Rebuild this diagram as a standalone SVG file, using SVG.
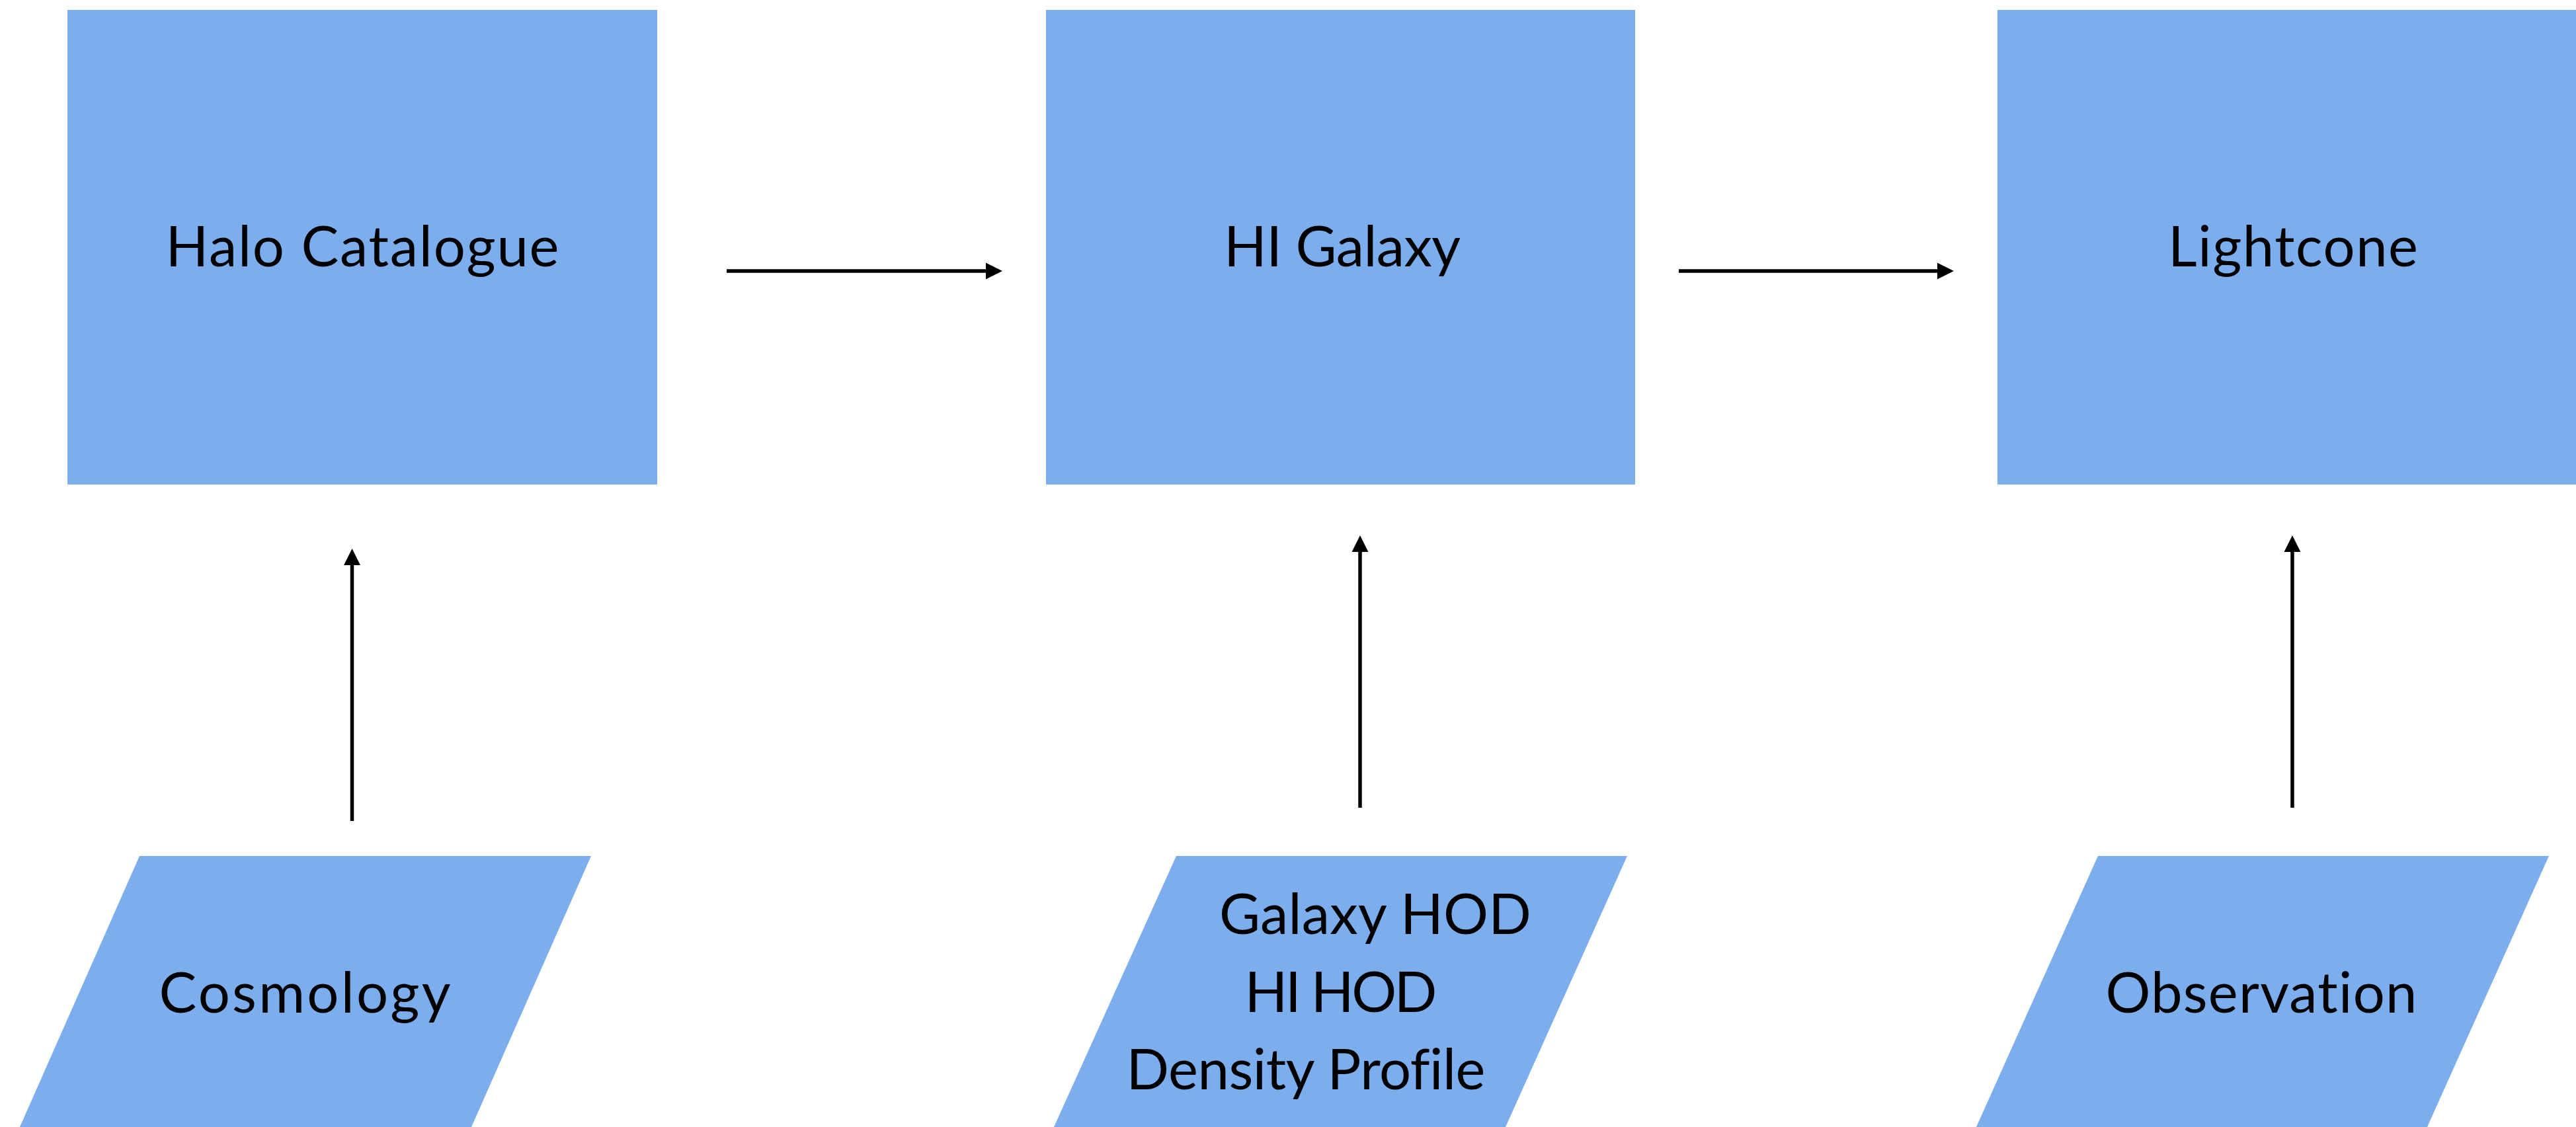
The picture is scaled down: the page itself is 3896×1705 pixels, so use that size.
<svg xmlns="http://www.w3.org/2000/svg" width="3896" height="1705" viewBox="0 0 3896 1705">
<style>
.box{fill:#7CADEC;}
.lbl{font-family:Lato,"Noto Sans","Liberation Sans",sans-serif;font-size:85px;fill:#000;text-anchor:middle;font-variant-ligatures:none;}
.con{stroke:#000;stroke-width:5.5;fill:none;marker-end:url(#ah);}
</style>
<defs>
<marker id="ah" markerUnits="userSpaceOnUse" markerWidth="26" markerHeight="26" refX="0" refY="12.5" orient="auto" overflow="visible">
<path d="M0,0 L25,12.5 L0,25 Z" fill="#000"/>
</marker>
</defs>
<rect width="3896" height="1705" fill="#fff"/>
<g id="halo-catalogue">
<rect class="box" x="102" y="15" width="892" height="718"/>
<text class="lbl" x="548" y="403" textLength="595">Halo Catalogue</text>
</g>
<g id="hi-galaxy">
<rect class="box" x="1582" y="15" width="891" height="718"/>
<text class="lbl" x="2030" y="403" textLength="358">HI Galaxy</text>
</g>
<g id="lightcone">
<rect class="box" x="3021" y="15" width="892" height="718"/>
<text class="lbl" x="3468" y="403" textLength="378">Lightcone</text>
</g>
<g id="cosmology">
<polygon class="box" points="211,1295 894,1295 713,1705 30,1705"/>
<text class="lbl" x="461" y="1532" textLength="441">Cosmology</text>
</g>
<g id="hod-inputs">
<polygon class="box" points="1779,1295 2461,1295 2277,1705 1594,1705"/>
<text class="lbl" x="2080" y="1413" textLength="472">Galaxy HOD</text>
<text class="lbl" x="2028" y="1531" textLength="291">HI HOD</text>
<text class="lbl" x="1975" y="1648" textLength="543">Density Profile</text>
</g>
<g id="observation">
<polygon class="box" points="3173,1295 3855,1295 3671,1705 2989,1705"/>
<text class="lbl" x="3420" y="1532" textLength="471">Observation</text>
</g>
<g id="connectors">
<line class="con" x1="1099" y1="410" x2="1491" y2="410"/>
<line class="con" x1="2539" y1="410" x2="2930" y2="410"/>
<line class="con" x1="532.5" y1="1242" x2="532.5" y2="855"/>
<line class="con" x1="2057" y1="1222" x2="2057" y2="835"/>
<line class="con" x1="3467" y1="1222" x2="3467" y2="835"/>
</g>
</svg>
